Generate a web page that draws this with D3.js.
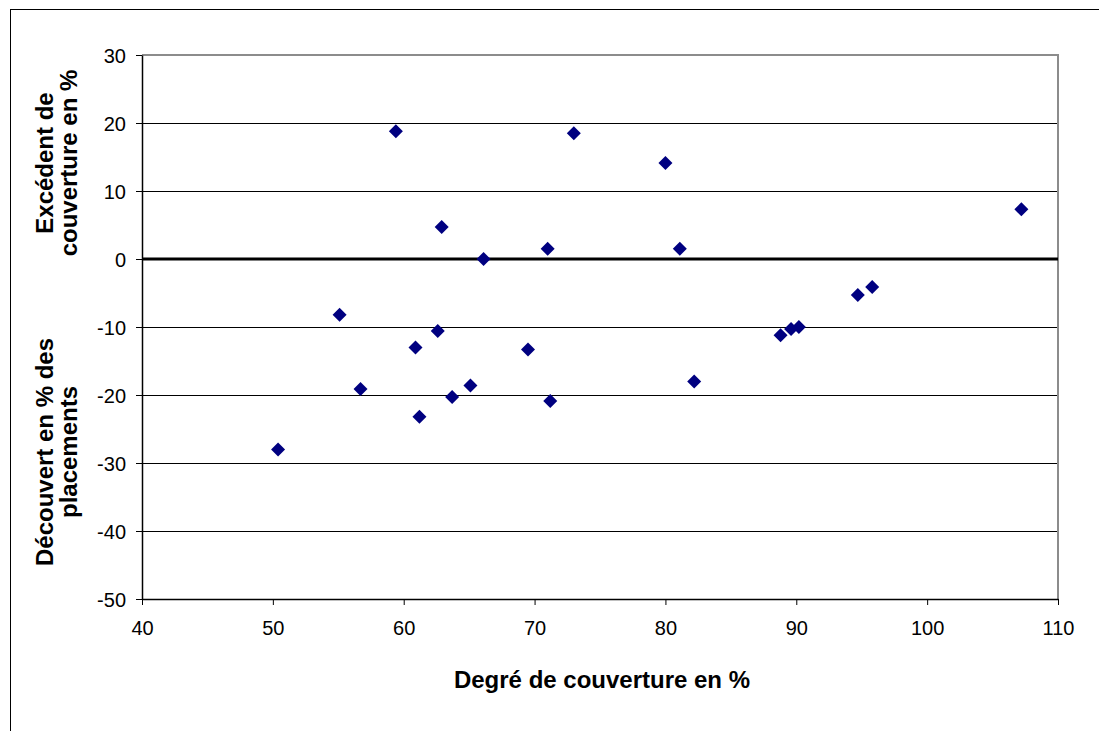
<!DOCTYPE html>
<html>
  <head>
    <meta charset="UTF-8">
    <script src="https://d3js.org/d3.v7.min.js"></script>
    <style>
        body {
            margin: 0;
            background: #fff;
        }
        * {
            font-family: "Liberation Sans", Arial, sans-serif;
        }
        .tickLabel {
            font-size: 20px;
            fill: #000;
        }
        .axisTitle {
            font-size: 24px;
            font-weight: bold;
            fill: #000;
        }
    </style>
  </head>
  <body>
    <script>
        // Degré de couverture (x) et excédent / découvert (y), en %
        const coverage = [59.4, 73.0, 80.0, 107.2, 62.9, 71.0, 81.1, 66.1, 95.8, 94.7, 55.1, 62.6,
                          90.2, 89.6, 88.8, 60.9, 69.5, 82.2, 65.1, 56.7, 63.7, 71.2, 61.2, 50.4]
        const surplus = [18.8, 18.5, 14.1, 7.3, 4.7, 1.5, 1.5, 0.0, -4.1, -5.3, -8.2, -10.6,
                         -10.0, -10.3, -11.2, -13.0, -13.3, -18.0, -18.6, -19.1, -20.3, -20.9, -23.2, -28.0]
        const xTicks = [40, 50, 60, 70, 80, 90, 100, 110]
        const yTicks = [30, 20, 10, 0, -10, -20, -30, -40, -50]
        const xTitle = 'Degré de couverture en %'
        const yTitleUpper = ['Excédent de', 'couverture en %']
        const yTitleLower = ['Découvert en % des', 'placements']

        let svgWidth = 1099, svgHeight = 731
        let plot = {left: 142, right: 1058, top: 55, bottom: 599}

        let x = d3.scaleLinear().domain([40, 110]).range([plot.left, plot.right])
        let y = d3.scaleLinear().domain([-50, 30]).range([plot.bottom, plot.top])

        let svg = d3.select('body').append('svg')
            .attr('width', svgWidth)
            .attr('height', svgHeight)

        // outer frame of the chart
        svg.append('rect')
            .attr('x', 10.5).attr('y', 9.5)
            .attr('width', 1100).attr('height', 740)
            .attr('fill', '#fff')
            .attr('stroke', '#000')
            .attr('stroke-width', 1)

        // gridlines
        svg.append('g')
            .selectAll('line')
            .data(yTicks.filter(d => d !== 0 && d !== -50 && d !== 30))
            .enter()
            .append('line')
            .attr('x1', plot.left).attr('x2', plot.right)
            .attr('y1', d => Math.round(y(d)) + 0.5)
            .attr('y2', d => Math.round(y(d)) + 0.5)
            .attr('stroke', '#000')
            .attr('stroke-width', 1)

        // plot border top / right (gray)
        svg.append('path')
            .attr('d', `M${plot.left},${plot.top} H${plot.right} V${plot.bottom}`)
            .attr('fill', 'none')
            .attr('stroke', '#8c8c8c')
            .attr('stroke-width', 2)

        // zero line
        svg.append('line')
            .attr('x1', plot.left).attr('x2', plot.right)
            .attr('y1', y(0)).attr('y2', y(0))
            .attr('stroke', '#000')
            .attr('stroke-width', 3)

        // axes
        let xAxis = svg.append('g')
            .attr('transform', `translate(0, ${plot.bottom})`)
            .call(d3.axisBottom(x).tickValues(xTicks).tickFormat(d => String(d))
                .tickSize(6).tickPadding(16).tickSizeOuter(0))
        let yAxis = svg.append('g')
            .attr('transform', `translate(${plot.left}, 0)`)
            .call(d3.axisLeft(y).tickValues(yTicks).tickFormat(d => String(d))
                .tickSize(6).tickPadding(10).tickSizeOuter(0))

        for (let ax of [xAxis, yAxis]) {
            ax.select('.domain').attr('stroke', '#000').attr('stroke-width', 1.5)
            ax.selectAll('.tick line').attr('stroke', '#000')
            ax.selectAll('.tick text')
                .attr('class', 'tickLabel')
                .attr('fill', '#000')
                .style('font-size', '20px')
                .style('font-family', '"Liberation Sans", Arial, sans-serif')
        }
        yAxis.selectAll('.tick text').attr('dy', '0.35em')

        // points
        let diamond = d3.symbol().type(d3.symbolSquare).size(98)
        svg.append('g')
            .selectAll('path')
            .data(coverage)
            .enter()
            .append('path')
            .attr('d', diamond)
            .attr('transform', (d, i) => `translate(${x(d)}, ${y(surplus[i])}) rotate(45)`)
            .attr('fill', '#000080')

        // x title
        svg.append('text')
            .attr('class', 'axisTitle')
            .attr('x', 602)
            .attr('y', 688)
            .attr('text-anchor', 'middle')
            .text(xTitle)

        // y titles (two groups, two lines each)
        let addYTitle = (lines, cy) => {
            let t = svg.append('text')
                .attr('class', 'axisTitle')
                .attr('text-anchor', 'middle')
                .attr('transform', `translate(53, ${cy}) rotate(-90)`)
            lines.forEach((line, i) => {
                t.append('tspan')
                    .attr('x', 0)
                    .attr('y', i * 24)
                    .text(line)
            })
        }
        addYTitle(yTitleUpper, 163)
        addYTitle(yTitleLower, 452)
    </script>
  </body>
</html>
